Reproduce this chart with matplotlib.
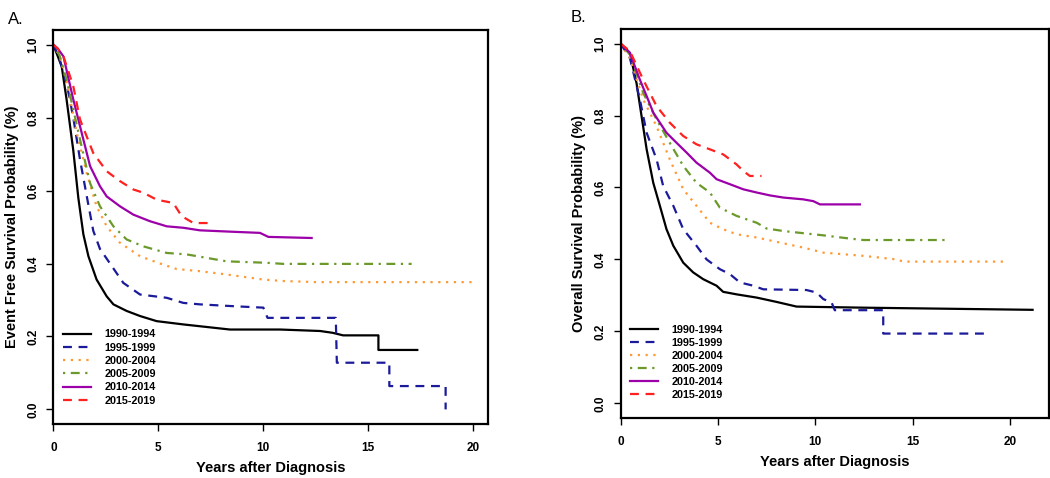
import matplotlib.pyplot as plt

plt.rcParams['font.family'] = ['Liberation Sans', 'DejaVu Sans']

labels = ['1990-1994', '1995-1999', '2000-2004', '2005-2009', '2010-2014', '2015-2019']
colors = ['black', '#1a1a9a', '#ff9933', '#6b9a2a', '#9c00a8', '#ff2020']
styles = ['-', (0, (4, 3)), (0, (1, 2.5)), (0, (1, 2.5, 4, 2.5)), '-', (0, (4, 3))]

# Panel A - event free survival (years, probability)
efs_t = [
    [0, 0.4, 0.63, 0.95, 1.19, 1.43, 1.67, 2.06, 2.54, 2.86, 3.49, 4.13, 4.92, 6.19, 8.41, 10.8, 12.7, 13.3, 13.8, 15.48, 15.48, 17.33],
    [0, 0.3, 0.63, 0.95, 1.27, 1.59, 1.9, 2.22, 2.7, 3.33, 4.13, 5.4, 6.19, 6.98, 8.57, 10.0, 10.2, 13.45, 13.5, 16.0, 16.0, 18.68, 18.68],
    [0, 0.3, 0.63, 1.11, 1.59, 2.06, 2.54, 3.17, 4.13, 5.08, 5.87, 6.98, 8.25, 10.0, 10.95, 12.54, 20.0],
    [0, 0.3, 0.63, 1.27, 1.75, 2.22, 2.86, 3.49, 4.29, 5.4, 6.35, 8.25, 10.16, 10.95, 17.06],
    [0, 0.2, 0.48, 0.95, 1.43, 1.75, 2.22, 2.54, 3.17, 3.81, 4.6, 5.4, 6.19, 6.98, 8.57, 9.84, 10.24, 12.3],
    [0, 0.2, 0.48, 0.95, 1.27, 1.9, 2.54, 3.17, 3.81, 4.29, 4.92, 5.71, 6.11, 6.67, 7.46],
]
efs_s = [
    [1.0, 0.94, 0.85, 0.71, 0.58, 0.48, 0.42, 0.356, 0.31, 0.288, 0.27, 0.256, 0.242, 0.233, 0.219, 0.219, 0.215, 0.21, 0.203, 0.203, 0.163, 0.163],
    [1.0, 0.96, 0.895, 0.80, 0.685, 0.585, 0.49, 0.44, 0.40, 0.347, 0.315, 0.306, 0.292, 0.288, 0.283, 0.279, 0.251, 0.251, 0.128, 0.128, 0.064, 0.064, 0.0],
    [1.0, 0.97, 0.90, 0.76, 0.648, 0.557, 0.502, 0.457, 0.42, 0.40, 0.385, 0.379, 0.37, 0.356, 0.352, 0.349, 0.349],
    [1.0, 0.97, 0.904, 0.74, 0.62, 0.557, 0.502, 0.466, 0.447, 0.429, 0.425, 0.406, 0.402, 0.399, 0.399],
    [1.0, 0.99, 0.968, 0.85, 0.74, 0.667, 0.612, 0.584, 0.557, 0.534, 0.516, 0.502, 0.498, 0.491, 0.487, 0.484, 0.473, 0.47],
    [1.0, 0.99, 0.968, 0.886, 0.795, 0.703, 0.653, 0.626, 0.603, 0.594, 0.575, 0.566, 0.53, 0.511, 0.511],
]

# Panel B - overall survival
os_t = [
    [0, 0.48, 0.82, 1.08, 1.34, 1.68, 2.02, 2.36, 2.71, 3.22, 3.73, 4.25, 4.93, 5.27, 5.96, 6.99, 8.01, 9.04, 12.47, 21.16],
    [0, 0.48, 0.99, 1.34, 1.85, 2.19, 2.71, 3.22, 3.9, 4.42, 5.1, 5.62, 6.13, 6.82, 7.33, 9.55, 10.07, 10.41, 10.84, 11.0, 13.49, 13.49, 18.89],
    [0, 0.48, 1.16, 1.85, 2.53, 3.22, 3.9, 4.59, 5.27, 5.96, 6.99, 8.18, 9.38, 10.41, 12.47, 14.18, 14.52, 19.66],
    [0, 0.48, 1.16, 1.85, 2.53, 3.22, 3.9, 4.59, 5.1, 5.96, 6.99, 7.5, 8.36, 9.38, 10.41, 11.78, 12.47, 16.83],
    [0, 0.48, 0.99, 1.34, 1.68, 2.36, 2.88, 3.39, 3.9, 4.59, 4.93, 5.62, 6.3, 6.99, 7.67, 8.36, 9.38, 9.9, 10.24, 12.29],
    [0, 0.48, 1.16, 1.85, 2.53, 3.22, 3.9, 4.59, 5.27, 5.62, 5.96, 6.3, 6.64, 7.24],
]
os_s = [
    [1.0, 0.974, 0.89, 0.798, 0.706, 0.613, 0.549, 0.484, 0.438, 0.391, 0.364, 0.345, 0.327, 0.31, 0.303, 0.294, 0.282, 0.269, 0.266, 0.26],
    [1.0, 0.96, 0.845, 0.752, 0.678, 0.604, 0.549, 0.484, 0.438, 0.40, 0.373, 0.359, 0.336, 0.327, 0.317, 0.315, 0.308, 0.29, 0.28, 0.259, 0.259, 0.194, 0.194],
    [1.0, 0.96, 0.845, 0.77, 0.678, 0.595, 0.549, 0.502, 0.484, 0.47, 0.461, 0.447, 0.433, 0.419, 0.41, 0.40, 0.394, 0.394],
    [1.0, 0.969, 0.863, 0.789, 0.724, 0.66, 0.613, 0.586, 0.544, 0.521, 0.502, 0.486, 0.479, 0.473, 0.467, 0.458, 0.454, 0.454],
    [1.0, 0.974, 0.90, 0.854, 0.808, 0.752, 0.724, 0.697, 0.669, 0.641, 0.623, 0.609, 0.595, 0.586, 0.578, 0.572, 0.567, 0.562, 0.553, 0.553],
    [1.0, 0.979, 0.90, 0.826, 0.78, 0.743, 0.72, 0.706, 0.692, 0.678, 0.664, 0.646, 0.632, 0.632],
]

fig = plt.figure(figsize=(10.5, 4.78), dpi=100)
axA = fig.add_axes([0.0508, 0.113, 0.414, 0.824])
axB = fig.add_axes([0.591, 0.126, 0.408, 0.813])


def panel(ax, ts, ss, xmax, ylabel, leg_y, spacing):
    for t, s, c, ls, lab in zip(ts, ss, colors, styles, labels):
        ax.plot(t, s, color=c, linestyle=ls, linewidth=1.6, label=lab)
    ax.set_xlim(0, xmax)
    ax.set_ylim(-0.04, 1.04)
    ax.set_xticks([0, 5, 10, 15, 20])
    ax.set_yticks([0.0, 0.2, 0.4, 0.6, 0.8, 1.0])
    ax.set_yticklabels(['0.0', '0.2', '0.4', '0.6', '0.8', '1.0'], rotation=90, va='center')
    ax.tick_params(axis='both', direction='out', length=5, width=1, labelsize=8.5)
    ax.tick_params(axis='x', pad=8)
    ax.tick_params(axis='y', pad=5)
    for lbl in ax.get_xticklabels() + ax.get_yticklabels():
        lbl.set_fontweight('bold')
    for sp in ax.spines.values():
        sp.set_linewidth(1.6)
    ax.set_xlabel('Years after Diagnosis', fontsize=10.5, fontweight='bold', labelpad=5)
    ax.set_ylabel(ylabel, fontsize=10.5, fontweight='bold', labelpad=6)
    ax.legend(loc='upper left', bbox_to_anchor=(0.0, leg_y), frameon=False,
              handlelength=2.6, labelspacing=spacing, handletextpad=1.2,
              prop={'weight': 'bold', 'size': 7.8})


panel(axA, efs_t, efs_s, 20.7, 'Event Free Survival Probability (%)', 0.265, 0.3)
panel(axB, os_t, os_s, 22.0, 'Overall Survival Probability (%)', 0.265, 0.28)

fig.text(0.008, 0.975, 'A.', fontsize=12, va='top')
fig.text(0.543, 0.98, 'B.', fontsize=12, va='top')

fig.savefig('out.png', dpi=100)
